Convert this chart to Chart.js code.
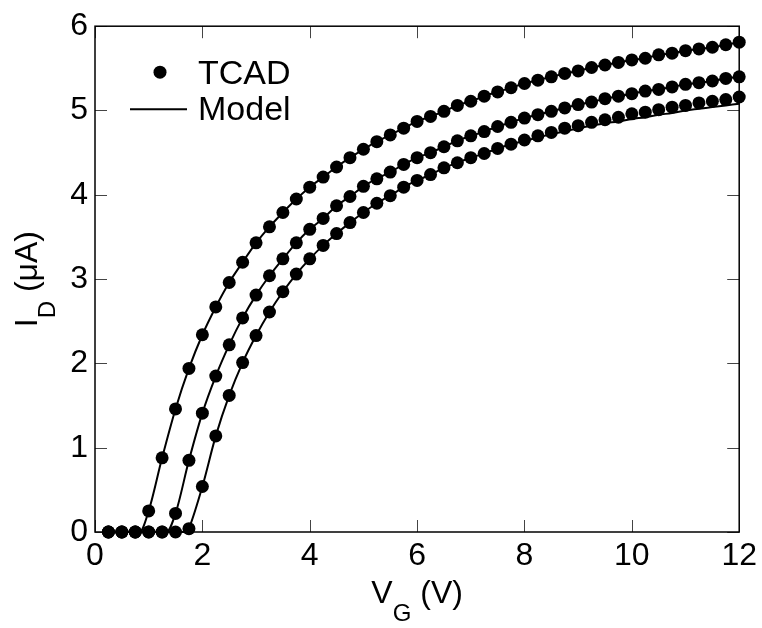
<!DOCTYPE html>
<html>
<head>
<meta charset="utf-8">
<script src="https://cdn.jsdelivr.net/npm/chart.js@4.4.1/dist/chart.umd.min.js"></script>
<style>
    body { margin: 0; background: #fff; }
    canvas { display: block; }
</style>
</head>
<body>
<canvas id="chart" width="762" height="628"></canvas>
<script>
// data \/
const vg = [
    0.25, 0.5, 0.75, 1.0, 1.25, 1.5, 1.75, 2.0,
    2.25, 2.5, 2.75, 3.0, 3.25, 3.5, 3.75, 4.0,
    4.25, 4.5, 4.75, 5.0, 5.25, 5.5, 5.75, 6.0,
    6.25, 6.5, 6.75, 7.0, 7.25, 7.5, 7.75, 8.0,
    8.25, 8.5, 8.75, 9.0, 9.25, 9.5, 9.75, 10.0,
    10.25, 10.5, 10.75, 11.0, 11.25, 11.5, 11.75, 12.0
];

// TCAD drain current (uA), one list per device
const tcad1 = [
    0, 0, 0, 0.25, 0.88, 1.46, 1.94, 2.34,
    2.67, 2.96, 3.20, 3.43, 3.62, 3.79, 3.95, 4.09,
    4.21, 4.33, 4.44, 4.54, 4.63, 4.71, 4.79, 4.87,
    4.93, 4.99, 5.06, 5.11, 5.17, 5.22, 5.27, 5.32,
    5.36, 5.40, 5.44, 5.47, 5.51, 5.54, 5.57, 5.60,
    5.62, 5.66, 5.68, 5.71, 5.73, 5.75, 5.78, 5.81
];
const tcad2 = [
    0, 0, 0, 0, 0, 0.22, 0.85, 1.41,
    1.85, 2.22, 2.54, 2.81, 3.04, 3.24, 3.43, 3.59,
    3.72, 3.87, 3.98, 4.10, 4.19, 4.27, 4.36, 4.44,
    4.50, 4.57, 4.64, 4.70, 4.75, 4.81, 4.86, 4.91,
    4.95, 4.99, 5.03, 5.07, 5.10, 5.14, 5.17, 5.20,
    5.23, 5.25, 5.28, 5.31, 5.33, 5.35, 5.38, 5.40
];
const tcad3 = [
    0, 0, 0, 0, 0, 0, 0.04, 0.54,
    1.14, 1.62, 2.01, 2.33, 2.61, 2.85, 3.06, 3.24,
    3.40, 3.54, 3.67, 3.79, 3.90, 3.99, 4.09, 4.17,
    4.24, 4.32, 4.38, 4.44, 4.49, 4.55, 4.60, 4.65,
    4.70, 4.74, 4.79, 4.82, 4.86, 4.89, 4.92, 4.96,
    4.98, 5.01, 5.04, 5.06, 5.09, 5.11, 5.13, 5.16
];

// model curves at the same gate voltages
const model1 = [
    0, 0, 0, 0.25, 0.88, 1.46, 1.94, 2.34,
    2.67, 2.96, 3.20, 3.43, 3.62, 3.79, 3.95, 4.09,
    4.21, 4.33, 4.44, 4.54, 4.63, 4.71, 4.79, 4.87,
    4.93, 4.99, 5.06, 5.11, 5.17, 5.22, 5.27, 5.32,
    5.36, 5.40, 5.44, 5.47, 5.51, 5.54, 5.57, 5.60,
    5.62, 5.66, 5.68, 5.71, 5.73, 5.75, 5.78, 5.81
];
const model2 = [
    0, 0, 0, 0, 0, 0.22, 0.85, 1.41,
    1.85, 2.22, 2.54, 2.81, 3.04, 3.24, 3.43, 3.59,
    3.72, 3.87, 3.98, 4.10, 4.19, 4.27, 4.36, 4.44,
    4.50, 4.57, 4.64, 4.70, 4.75, 4.81, 4.86, 4.91,
    4.95, 4.99, 5.03, 5.07, 5.10, 5.14, 5.17, 5.20,
    5.23, 5.25, 5.28, 5.31, 5.33, 5.35, 5.38, 5.40
];
const model3 = [
    0, 0, 0, 0, 0, 0, 0.04, 0.54,
    1.14, 1.62, 2.01, 2.33, 2.61, 2.85, 3.06, 3.24,
    3.40, 3.54, 3.67, 3.79, 3.90, 3.99, 4.09, 4.17,
    4.24, 4.32, 4.38, 4.44, 4.49, 4.55, 4.60, 4.64,
    4.68, 4.72, 4.75, 4.79, 4.82, 4.85, 4.87, 4.90,
    4.92, 4.95, 4.97, 5.00, 5.02, 5.04, 5.06, 5.08
];
// threshold voltage where each model curve leaves zero
const modelStart = [0.83, 1.33, 1.72];

const xTicks = [0, 2, 4, 6, 8, 10, 12];
const yTicks = [0, 1, 2, 3, 4, 5, 6];
const legendLabels = ['TCAD', 'Model'];
// data /\

const FONT = "'Liberation Sans', Arial, Helvetica, sans-serif";

function tcadPoints(ys) {
    return vg.map((x, i) => ({ x: x, y: ys[i] }));
}

function modelPoints(ys, start) {
    let pts = [];
    let added = false;
    vg.forEach((x, i) => {
        if (!added && x > start) {
            pts.push({ x: start, y: 0 });
            added = true;
        }
        pts.push({ x: x, y: ys[i] });
    });
    return pts;
}

function tcadSet(ys) {
    return {
        label: legendLabels[0],
        data: tcadPoints(ys),
        showLine: false,
        pointRadius: 6.5,
        pointHoverRadius: 6.5,
        pointBackgroundColor: '#000',
        pointBorderWidth: 0,
        clip: false
    };
}

function modelSet(ys, start) {
    return {
        label: legendLabels[1],
        data: modelPoints(ys, start),
        showLine: true,
        borderColor: '#000',
        borderWidth: 2,
        pointRadius: 0,
        cubicInterpolationMode: 'monotone',
        clip: false
    };
}

// frame with inward ticks on all four sides \/
const framePlugin = {
    id: 'frame',
    beforeDatasetsDraw(chart) {
        const ctx = chart.ctx;
        const a = chart.chartArea;
        const xs = chart.scales.x;
        const ys = chart.scales.y;
        const len = 12;
        ctx.save();
        ctx.strokeStyle = '#444';
        ctx.lineWidth = 1;
        ctx.beginPath();
        xTicks.forEach(v => {
            let px = Math.round(xs.getPixelForValue(v)) + 0.5;
            ctx.moveTo(px, a.bottom);
            ctx.lineTo(px, a.bottom - len);
            ctx.moveTo(px, a.top);
            ctx.lineTo(px, a.top + len);
        });
        yTicks.forEach(v => {
            let py = Math.round(ys.getPixelForValue(v)) + 0.5;
            ctx.moveTo(a.left, py);
            ctx.lineTo(a.left + len, py);
            ctx.moveTo(a.right, py);
            ctx.lineTo(a.right - len, py);
        });
        ctx.stroke();
        ctx.strokeStyle = '#000';
        ctx.lineWidth = 1.5;
        ctx.strokeRect(a.left, a.top, a.right - a.left, a.bottom - a.top);
        ctx.restore();
    }
};
// frame /\

// axis titles with subscripts \/
function titleWidth(ctx, main, sub, rest) {
    ctx.font = '32px ' + FONT;
    let w = ctx.measureText(main).width + ctx.measureText(rest).width;
    ctx.font = '24px ' + FONT;
    return w + ctx.measureText(sub).width;
}

function drawTitle(ctx, main, sub, rest, x, y) {
    ctx.textBaseline = 'alphabetic';
    ctx.textAlign = 'left';
    ctx.font = '32px ' + FONT;
    ctx.fillText(main, x, y);
    x += ctx.measureText(main).width;
    ctx.font = '24px ' + FONT;
    ctx.fillText(sub, x, y + 18);
    x += ctx.measureText(sub).width;
    ctx.font = '32px ' + FONT;
    ctx.fillText(rest, x, y);
}

const titlePlugin = {
    id: 'titles',
    afterDraw(chart) {
        const ctx = chart.ctx;
        const a = chart.chartArea;
        ctx.save();
        ctx.fillStyle = '#000';

        let w = titleWidth(ctx, 'V', 'G', ' (V)');
        drawTitle(ctx, 'V', 'G', ' (V)', (a.left + a.right) / 2 - w / 2, 603);

        w = titleWidth(ctx, 'I', 'D', ' (\u03bcA)');
        ctx.translate(37, (a.top + a.bottom) / 2);
        ctx.rotate(-Math.PI / 2);
        drawTitle(ctx, 'I', 'D', ' (\u03bcA)', -w / 2, 0);
        ctx.restore();
    }
};
// axis titles /\

// legend in the upper left corner \/
const legendPlugin = {
    id: 'cornerLegend',
    afterDraw(chart) {
        const ctx = chart.ctx;
        const a = chart.chartArea;
        ctx.save();
        ctx.fillStyle = '#000';
        ctx.strokeStyle = '#000';

        ctx.beginPath();
        ctx.arc(a.left + 65, a.top + 46, 6.5, 0, Math.PI * 2);
        ctx.fill();

        ctx.lineWidth = 2;
        ctx.beginPath();
        ctx.moveTo(a.left + 35, a.top + 83);
        ctx.lineTo(a.left + 92, a.top + 83);
        ctx.stroke();

        ctx.font = '34px ' + FONT;
        ctx.textAlign = 'left';
        ctx.textBaseline = 'alphabetic';
        ctx.fillText(legendLabels[0], a.left + 103, a.top + 58);
        ctx.fillText(legendLabels[1], a.left + 103, a.top + 94);
        ctx.restore();
    }
};
// legend /\

// chart \/
const chartEl = document.getElementById('chart');

new Chart(chartEl, {
    type: 'scatter',
    data: {
        datasets: [
            modelSet(model1, modelStart[0]),
            modelSet(model2, modelStart[1]),
            modelSet(model3, modelStart[2]),
            tcadSet(tcad1),
            tcadSet(tcad2),
            tcadSet(tcad3)
        ]
    },
    options: {
        responsive: false,
        devicePixelRatio: 1,
        animation: false,
        layout: { padding: { top: 14, right: 21, left: 0, bottom: 0 } },
        plugins: {
            legend: { display: false },
            tooltip: { enabled: false }
        },
        scales: {
            x: {
                type: 'linear',
                min: 0,
                max: 12,
                afterBuildTicks: s => { s.ticks = xTicks.map(v => ({ value: v })); },
                afterFit: s => { s.height = 96; },
                grid: { display: false, drawTicks: false },
                border: { display: false },
                ticks: {
                    color: '#000',
                    padding: 5,
                    maxRotation: 0,
                    font: { family: FONT, size: 32 }
                }
            },
            y: {
                type: 'linear',
                min: 0,
                max: 6,
                afterBuildTicks: s => { s.ticks = yTicks.map(v => ({ value: v })); },
                afterFit: s => { s.width = 95; },
                grid: { display: false, drawTicks: false },
                border: { display: false },
                ticks: {
                    color: '#000',
                    padding: 7,
                    font: { family: FONT, size: 32 }
                }
            }
        }
    },
    plugins: [framePlugin, titlePlugin, legendPlugin]
});
// chart /\
</script>
</body>
</html>
